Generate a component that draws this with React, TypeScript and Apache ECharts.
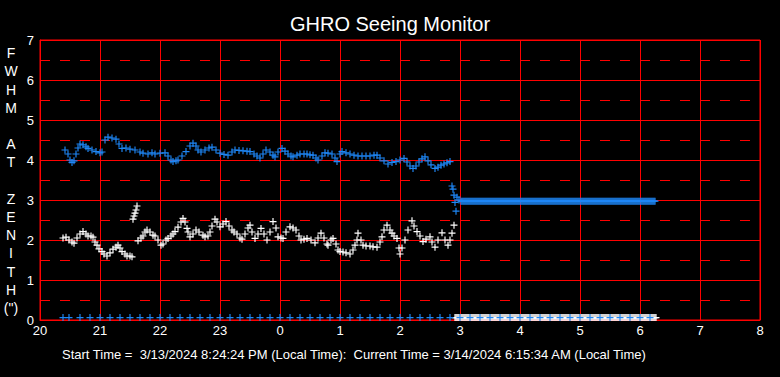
import React, { useEffect, useRef } from "react";
import * as echarts from "echarts";

// Time is minutes after 20:00 local time; value is FWHM at zenith (arcsec)
const hourLabels = ["20", "21", "22", "23", "0", "1", "2", "3", "4", "5", "6", "7", "8"];
const yTickValues = [0, 1, 2, 3, 4, 5, 6, 7];

const blueTimes = [
  25, 28, 30, 32, 34, 36, 38, 40, 43, 46,
  48, 52, 56, 60, 62, 65, 68, 72, 76, 79,
  82, 86, 90, 95, 100, 103, 108, 112, 115, 120,
  125, 128, 131, 133, 136, 138, 142, 146, 150, 153,
  156, 158, 161, 165, 169, 172, 176, 180, 184, 188,
  192, 195, 199, 203, 207, 210, 214, 217, 220, 223,
  226, 230, 233, 235, 238, 242, 245, 248, 251, 253,
  257, 260, 264, 267, 270, 273, 276, 278, 282, 285,
  288, 292, 295, 297, 300, 302, 306, 310, 314, 318,
  322, 326, 330, 334, 337, 340, 344, 348, 352, 356,
  360, 364, 367, 370, 373, 376, 379, 382, 385, 388,
  391, 395, 398, 401, 404, 407, 410,
  412, 413, 414, 415, 416, 417, 419, 421,
];
const blueValues = [
  4.25, 4.15, 4.0, 3.94, 3.98, 4.15, 4.3, 4.4, 4.38, 4.33,
  4.29, 4.25, 4.21, 4.18, 4.2, 4.5, 4.57, 4.55, 4.52, 4.4,
  4.29, 4.3, 4.27, 4.25, 4.2, 4.17, 4.15, 4.18, 4.15, 4.17,
  4.18, 4.1, 4.0, 3.96, 3.98, 4.0, 4.1, 4.21, 4.35, 4.42,
  4.35, 4.25, 4.2, 4.25, 4.3, 4.32, 4.25, 4.17, 4.14, 4.12,
  4.2, 4.25, 4.24, 4.23, 4.22, 4.21, 4.15, 4.1, 4.05, 4.15,
  4.25, 4.2, 4.12, 4.08, 4.2, 4.29, 4.22, 4.15, 4.1, 4.08,
  4.12, 4.15, 4.15, 4.15, 4.13, 4.12, 4.05, 4.0, 4.1, 4.18,
  4.17, 4.15, 4.05, 3.96, 4.15, 4.21, 4.18, 4.15, 4.12, 4.1,
  4.1, 4.1, 4.1, 4.12, 4.12, 4.05, 3.98, 3.9, 3.94, 3.96,
  4.0, 4.04, 3.95, 3.85, 3.79, 3.85, 3.95, 4.03, 4.08, 3.98,
  3.88, 3.79, 3.82, 3.87, 3.9, 3.93, 3.96,
  3.35, 3.27, 3.12, 2.94, 2.72, 3.07, 3.0, 2.97,
];
// after ~02:55 the blue reading stays flat
const blueFlatValue = 2.97;
const blueFlatStart = 422;
const blueFlatEnd = 615;

const whiteReadings: [number, number][] = [
  [23, 2.05], [26, 2.07], [29, 2.0], [32, 1.95], [34, 1.92], [37, 2.05], [40, 2.15], [43, 2.21],
  [46, 2.15], [48, 2.1], [51, 2.1], [53, 2.07], [55, 1.95], [57, 1.87], [59, 1.78], [62, 1.71],
  [64, 1.65], [67, 1.6], [70, 1.68], [73, 1.77], [76, 1.82], [78, 1.87], [80, 1.8], [82, 1.71],
  [85, 1.65], [87, 1.6], [90, 1.6], [92, 1.58],
  [93, 2.52], [94, 2.6], [95, 2.67], [96, 2.75], [97, 2.85],
  [98, 1.98], [101, 2.05], [103, 2.1], [105, 2.2], [107, 2.25], [110, 2.2], [113, 2.12], [115, 2.1],
  [118, 2.0], [121, 1.87], [123, 1.9], [126, 2.0], [128, 2.04], [131, 2.1], [133, 2.15], [135, 2.21],
  [138, 2.32], [141, 2.45], [143, 2.54], [145, 2.45], [147, 2.29], [148, 2.2], [150, 2.08], [153, 2.15],
  [156, 2.25], [159, 2.2], [163, 2.12], [165, 2.08], [168, 2.1], [170, 2.2], [172, 2.35], [175, 2.52],
  [177, 2.45], [180, 2.33], [183, 2.4], [186, 2.46], [189, 2.35], [192, 2.25], [194, 2.2], [197, 2.15],
  [200, 2.05], [202, 2.02], [205, 2.15], [208, 2.3], [210, 2.37], [212, 2.2], [215, 2.04], [218, 2.15],
  [221, 2.29], [224, 2.15], [227, 2.0], [230, 2.2], [233, 2.46], [236, 2.3], [238, 2.08], [241, 2.05],
  [243, 2.04], [246, 2.2], [250, 2.33], [253, 2.3], [256, 2.25], [259, 2.1], [261, 2.0], [264, 2.02],
  [267, 2.04], [271, 2.0], [275, 1.93], [278, 2.05], [281, 2.17], [284, 2.05], [287, 1.9], [288, 1.87],
  [291, 2.0], [293, 2.04], [296, 1.9], [298, 1.75], [300, 1.71], [303, 1.7], [306, 1.68], [310, 1.65],
  [313, 1.75], [315, 1.87], [317, 2.0], [318, 2.17], [321, 2.0], [323, 1.87], [326, 1.85], [330, 1.85],
  [333, 1.83], [337, 1.82], [340, 1.95], [342, 2.08], [344, 2.25], [347, 2.37], [350, 2.25], [352, 2.17],
  [354, 2.1], [357, 2.04], [359, 1.8], [360, 1.65], [362, 1.8], [365, 2.0], [368, 2.25], [372, 2.48],
  [374, 2.35], [377, 2.21], [380, 2.1], [383, 1.96], [386, 2.02], [390, 2.08], [392, 1.95], [395, 1.82],
  [398, 2.0], [402, 2.18], [405, 2.0], [408, 1.87], [410, 2.0], [412, 2.17], [414, 2.37],
];
// readings pinned at the bottom of the chart
const zeroValue = 0.06;
const whiteZeroStart = 415;
const whiteZeroEnd = 616;
const blueZeroTimes = [23, 29, 40, 50, 60, 70, 80, 90, 100, 110, 120, 130, 140, 150, 160, 170, 180,
  190, 200, 210, 220, 230, 240, 250, 260, 270, 280, 290, 300, 310, 320, 330, 340, 350, 360, 370,
  380, 390, 400, 410, 420, 430, 440, 450, 460, 470, 480, 490, 500, 510, 520, 530, 540, 550, 560,
  570, 580, 590, 600, 610];

const titleText = "GHRO Seeing Monitor";
const footerText = "Start Time =  3/13/2024 8:24:24 PM (Local Time):  Current Time = 3/14/2024 6:15:34 AM (Local Time)";
const yLabelText = "F\nW\nH\nM\n\nA\nT\n\nZ\nE\nN\nI\nT\nH\n(\")";

const BLUE = "#1E86F5";
const WHITE = "#ffffff";
const RED = "#ff0000";
const FONT = "'Liberation Sans', Arial, sans-serif";
const PLUS = "path://M3,0h1.2v3h3v1.2h-3v3h-1.2v-3h-3v-1.2h3z";

export default function App() {
  const ref = useRef<HTMLDivElement>(null);
  useEffect(() => {
    if (!ref.current) return;
    const chart = echarts.init(ref.current, null, { renderer: "svg" });

    const blueMain = blueTimes.map((t, i) => [t, blueValues[i]]);
    const blueFlat: number[][] = [];
    for (let t = blueFlatStart; t <= blueFlatEnd; t += 1) blueFlat.push([t, blueFlatValue]);
    const whiteZero: number[][] = [];
    for (let t = whiteZeroStart; t <= whiteZeroEnd; t += 1) whiteZero.push([t, zeroValue]);
    const blueZero = blueZeroTimes.map((t) => [t, zeroValue]);

    const scatter = (data: number[][], color: string, z: number) => ({
      type: "scatter",
      data,
      symbol: PLUS,
      symbolSize: 7,
      itemStyle: { color, opacity: 1 },
      z,
      silent: true,
    });

    chart.setOption({
      animation: false,
      backgroundColor: "#000000",
      title: {
        text: titleText,
        left: "center",
        top: 9,
        textStyle: { color: WHITE, fontSize: 20, fontWeight: "normal", fontFamily: FONT },
      },
      grid: {
        left: 40, right: 20, top: 40, bottom: 57,
        show: true, borderColor: RED, borderWidth: 1, backgroundColor: "#000000",
      },
      xAxis: {
        type: "value",
        min: 0,
        max: 720,
        interval: 60,
        axisLine: { show: true, lineStyle: { color: RED, width: 1 } },
        axisTick: { show: false },
        axisLabel: {
          color: WHITE, fontSize: 13, fontFamily: FONT, margin: 4,
          formatter: (v: number) => hourLabels[Math.round(v / 60)] ?? "",
        },
        splitLine: { show: true, lineStyle: { color: RED, width: 1, type: "solid" } },
      },
      yAxis: {
        type: "value",
        min: yTickValues[0],
        max: yTickValues[yTickValues.length - 1],
        interval: 1,
        axisLine: { show: true, lineStyle: { color: RED, width: 1 } },
        axisTick: { show: false },
        axisLabel: { color: WHITE, fontSize: 13, fontFamily: FONT, margin: 6 },
        splitLine: { show: true, lineStyle: { color: RED, width: 1, type: "solid" } },
        minorTick: { show: false, splitNumber: 2 },
        minorSplitLine: { show: true, lineStyle: { color: RED, width: 1, type: [10, 10] } },
      },
      graphic: [
        {
          type: "text",
          left: 62,
          top: 348,
          style: { text: footerText, fill: WHITE, fontSize: 13, fontFamily: FONT },
        },
        {
          type: "text",
          x: 11,
          y: 44,
          style: {
            text: yLabelText, fill: WHITE, fontSize: 14, fontFamily: FONT,
            lineHeight: 18.2, align: "center", verticalAlign: "top",
          },
        },
      ],
      series: [
        scatter(blueMain, BLUE, 3),
        scatter(blueFlat, BLUE, 3),
        scatter(whiteReadings, WHITE, 4),
        scatter(whiteZero, WHITE, 4),
        scatter(blueZero, BLUE, 5),
      ],
    });
    return () => chart.dispose();
  }, []);

  return (
    <div
      ref={ref}
      style={{ position: "fixed", left: 0, top: 0, width: 780, height: 377, background: "#000" }}
    />
  );
}
